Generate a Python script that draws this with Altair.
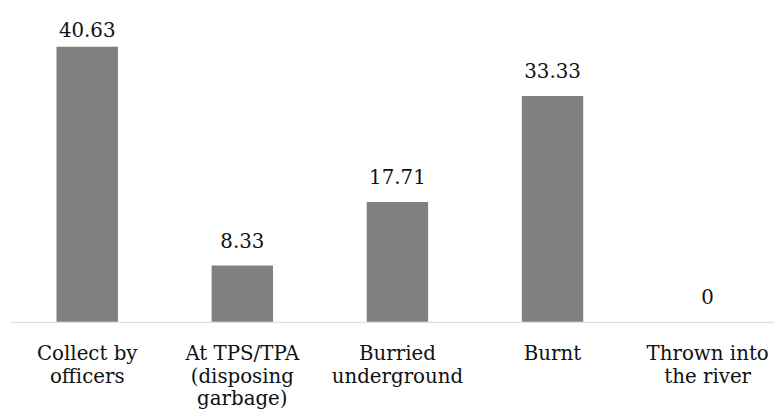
import altair as alt
import pandas as pd

categories = [
    "Collect by|officers",
    "At TPS/TPA|(disposing|garbage)",
    "Burried|underground",
    "Burnt",
    "Thrown into|the river",
]
values = [40.63, 8.33, 17.71, 33.33, 0]

df = pd.DataFrame({"cat": categories, "val": values})

FONT = "DejaVu Serif"
Y_MAX = 45
LABEL_CAP = 39.4  # keep value labels inside the plot area, as the source does

x_enc = alt.X(
    "cat:N",
    sort=None,
    scale=alt.Scale(range=[0, 783], paddingInner=0.604, paddingOuter=0.3),
    axis=alt.Axis(
        title=None,
        labelAngle=0,
        labelExpr="split(datum.label, '|')",
        labelFont=FONT,
        labelFontSize=20,
        labelColor="#111111",
        labelLineHeight=23,
        labelPadding=22,
        labelBaseline="top",
        ticks=False,
        domainColor="#d9d9d9",
        domainWidth=1,
        grid=False,
    ),
)

y_scale = alt.Scale(domain=[0, Y_MAX], nice=False)

bars = alt.Chart(df).mark_bar(color="#808080").encode(
    x=x_enc,
    y=alt.Y("val:Q", scale=y_scale, axis=None),
)

labels = alt.Chart(df).transform_calculate(
    ly=f"min(datum.val, {LABEL_CAP})"
).mark_text(
    font=FONT, fontSize=20, color="#111111", dy=-18, baseline="alphabetic"
).encode(
    x=alt.X("cat:N", sort=None),
    y=alt.Y("ly:Q", scale=y_scale),
    text=alt.Text("val:Q", format=".2~f"),
)

chart = alt.layer(bars, labels).properties(
    width=772,
    height=308,
    autosize=alt.AutoSizeParams(type="none"),
    padding={"left": 2, "top": 7, "right": 0, "bottom": 93},
    background="white",
).configure_view(stroke=None)

chart.save("out.html", embed_options={"renderer": "svg", "actions": False})
